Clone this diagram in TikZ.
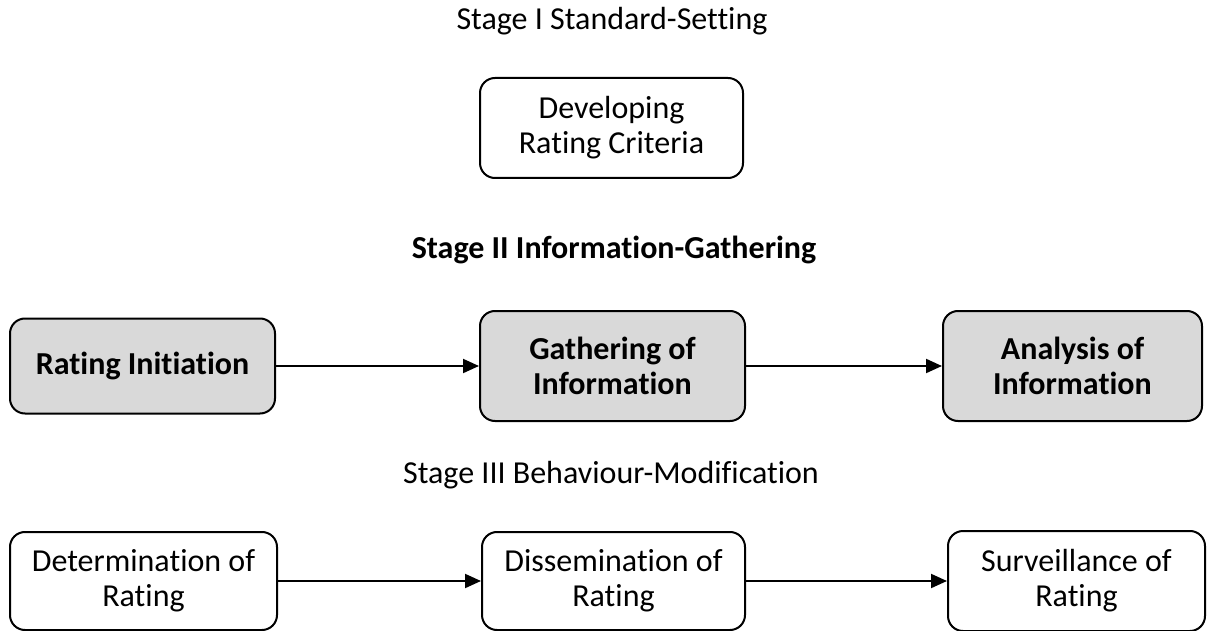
\documentclass[tikz,border=0pt]{standalone}
\usepackage{fontspec}
\setmainfont{Carlito}[Ligatures=NoCommon]
\usetikzlibrary{arrows.meta}
\definecolor{boxgray}{HTML}{D9D9D9}
\tikzset{
  stagebox/.style={draw=black, line width=2pt, rounded corners=15pt, align=center,
    inner sep=0pt, font=\fontsize{32}{35}\selectfont},
  grayfill/.style={fill=boxgray, font=\fontsize{32}{35}\selectfont\bfseries},
  title/.style={inner sep=0pt, font=\fontsize{32}{35}\selectfont},
  flow/.style={line width=2pt, -{Triangle[length=16pt,width=14pt]}},
}
\begin{document}
\begin{tikzpicture}[x=1pt,y=-1pt]
\useasboundingbox (0,0) rectangle (1208,631);
\node[title] (t1) at (612,21) {Stage I Standard-Setting};
\node[stagebox, minimum width=263pt, minimum height=100pt] (dev) at (611.5,128) {Developing\\Rating Criteria};
\node[title, font=\fontsize{32}{35}\selectfont\bfseries] (t2) at (614,250) {Stage II Information-Gathering};
\node[stagebox, grayfill, minimum width=265pt, minimum height=95pt] (ri) at (142.5,366) {Rating Initiation};
\node[stagebox, grayfill, minimum width=265pt, minimum height=110pt] (ga) at (612.5,366) {Gathering of\\Information};
\node[stagebox, grayfill, minimum width=259pt, minimum height=110pt] (an) at (1072.5,366) {Analysis of\\Information};
\node[title] (t3) at (611,475) {Stage III Behaviour-Modification};
\node[stagebox, minimum width=267pt, minimum height=98pt] (de) at (143.5,581) {Determination of\\Rating};
\node[stagebox, minimum width=263pt, minimum height=98pt] (di) at (613.5,581) {Dissemination of\\Rating};
\node[stagebox, minimum width=257pt, minimum height=100pt] (su) at (1076.5,581) {Surveillance of\\Rating};
\draw[flow] (ri) -- (ga);
\draw[flow] (ga) -- (an);
\draw[flow] (de) -- (di);
\draw[flow] (di) -- (su);
\end{tikzpicture}
\end{document}
